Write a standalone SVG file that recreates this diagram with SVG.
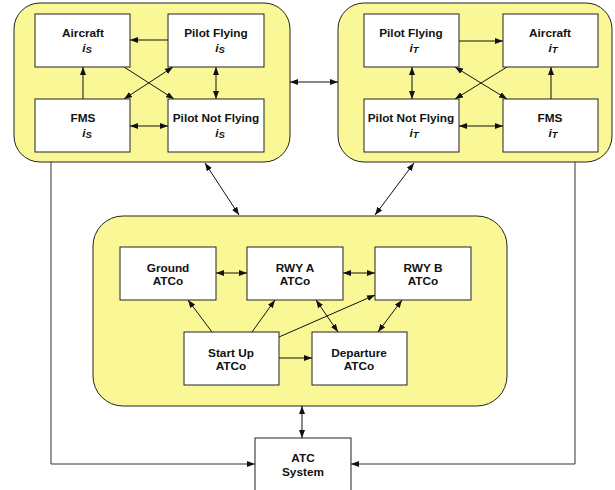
<svg xmlns="http://www.w3.org/2000/svg" width="615" height="490" viewBox="0 0 615 490">
<style>
.bg{fill:#FFFFFF}
.grp{fill:#FAF896;stroke:#222;stroke-width:1}
.box{fill:#FFFFFF;stroke:#222;stroke-width:1}
.t{font-family:"Liberation Sans",Arial,sans-serif;font-weight:bold;font-size:11.8px;fill:#111;text-anchor:middle}
.it{font-style:italic}
.sub{font-size:9.5px}
.c{fill:none;stroke:#111;stroke-width:1}
.cg{fill:none;stroke:#333;stroke-width:1}
.a{marker-end:url(#ah)}
.d{marker-end:url(#ah);marker-start:url(#ah)}
</style>
<defs>
<marker id="ah" viewBox="0 0 8 6" refX="8" refY="3" markerWidth="8" markerHeight="6" markerUnits="userSpaceOnUse" orient="auto-start-reverse">
<path d="M0,0 L8,3 L0,6 Z" fill="#111"/>
</marker>
</defs>
<rect class="bg" x="0" y="0" width="615" height="490"/>

<g id="groupS">
<rect class="grp" x="14" y="3" width="276" height="159" rx="26" ry="26"/>
</g>
<g id="groupT">
<rect class="grp" x="338" y="3" width="274" height="159" rx="26" ry="26"/>
</g>
<g id="groupATC">
<rect class="grp" x="93" y="216" width="414" height="190" rx="30" ry="30"/>
</g>

<g id="connectors">
<line class="c a" x1="168" y1="40" x2="130" y2="40"/>
<line class="c a" x1="83" y1="99" x2="83" y2="67"/>
<line class="c d" x1="216" y1="67" x2="216" y2="99"/>
<line class="c d" x1="130" y1="126" x2="168" y2="126"/>
<line class="c a" x1="124" y1="67" x2="174" y2="99"/>
<line class="c d" x1="173" y1="67" x2="124" y2="99"/>
<line class="c a" x1="459" y1="41" x2="503" y2="41"/>
<line class="c a" x1="551" y1="99" x2="551" y2="67"/>
<line class="c d" x1="412" y1="67" x2="412" y2="99"/>
<line class="c d" x1="459" y1="126" x2="503" y2="126"/>
<line class="c d" x1="455" y1="67" x2="507" y2="99"/>
<line class="c a" x1="507" y1="67" x2="455" y2="99"/>
<line class="c d" x1="290" y1="82" x2="338" y2="82"/>
<line class="c d" x1="205" y1="163" x2="239" y2="215"/>
<line class="c d" x1="414" y1="163" x2="375" y2="215"/>
<line class="c d" x1="302" y1="406" x2="302" y2="438"/>
<polyline class="cg a" points="51,162 51,464 255,464"/>
<polyline class="cg a" points="575,162 575,464 351,464"/>
<line class="c d" x1="216" y1="273" x2="247" y2="273"/>
<line class="c d" x1="343" y1="273" x2="375" y2="273"/>
<line class="c a" x1="212" y1="332" x2="188" y2="300"/>
<line class="c a" x1="252" y1="332" x2="275" y2="300"/>
<line class="c a" x1="279" y1="337" x2="375" y2="295"/>
<line class="c d" x1="316" y1="300" x2="338" y2="332"/>
<line class="c d" x1="402" y1="300" x2="378" y2="332"/>
<line class="c a" x1="279" y1="358" x2="312" y2="358"/>
</g>

<g id="aircraftS">
<rect class="box" x="35" y="14" width="95" height="53"/>
<text class="t" x="83" y="37">Aircraft</text>
<text class="t it" x="87" y="52">i<tspan class="sub" dy="1">S</tspan></text>
</g>
<g id="pilotFlyingS">
<rect class="box" x="168" y="14" width="96" height="53"/>
<text class="t" x="216" y="37">Pilot Flying</text>
<text class="t it" x="220" y="52">i<tspan class="sub" dy="1">S</tspan></text>
</g>
<g id="fmsS">
<rect class="box" x="35" y="99" width="95" height="53"/>
<text class="t" x="83" y="122">FMS</text>
<text class="t it" x="87" y="137">i<tspan class="sub" dy="1">S</tspan></text>
</g>
<g id="pilotNotFlyingS">
<rect class="box" x="168" y="99" width="96" height="53"/>
<text class="t" x="216" y="122">Pilot Not Flying</text>
<text class="t it" x="220" y="137">i<tspan class="sub" dy="1">S</tspan></text>
</g>

<g id="pilotFlyingT">
<rect class="box" x="364" y="14" width="95" height="53"/>
<text class="t" x="411" y="37">Pilot Flying</text>
<text class="t it" x="414" y="52">i<tspan class="sub" dy="1">T</tspan></text>
</g>
<g id="aircraftT">
<rect class="box" x="503" y="14" width="95" height="53"/>
<text class="t" x="550" y="37">Aircraft</text>
<text class="t it" x="553" y="52">i<tspan class="sub" dy="1">T</tspan></text>
</g>
<g id="pilotNotFlyingT">
<rect class="box" x="364" y="99" width="95" height="53"/>
<text class="t" x="411" y="122">Pilot Not Flying</text>
<text class="t it" x="414" y="137">i<tspan class="sub" dy="1">T</tspan></text>
</g>
<g id="fmsT">
<rect class="box" x="503" y="99" width="95" height="53"/>
<text class="t" x="550" y="122">FMS</text>
<text class="t it" x="553" y="137">i<tspan class="sub" dy="1">T</tspan></text>
</g>

<g id="groundATCo">
<rect class="box" x="120" y="247" width="96" height="53"/>
<text class="t" x="168" y="272">Ground</text>
<text class="t" x="168" y="285">ATCo</text>
</g>
<g id="rwyA">
<rect class="box" x="247" y="247" width="96" height="53"/>
<text class="t" x="295" y="272">RWY A</text>
<text class="t" x="295" y="285">ATCo</text>
</g>
<g id="rwyB">
<rect class="box" x="375" y="247" width="96" height="53"/>
<text class="t" x="423" y="272">RWY B</text>
<text class="t" x="423" y="285">ATCo</text>
</g>
<g id="startUp">
<rect class="box" x="184" y="332" width="95" height="53"/>
<text class="t" x="231" y="357">Start Up</text>
<text class="t" x="231" y="370">ATCo</text>
</g>
<g id="departure">
<rect class="box" x="312" y="332" width="95" height="53"/>
<text class="t" x="359" y="357">Departure</text>
<text class="t" x="359" y="370">ATCo</text>
</g>
<g id="atcSystem">
<rect class="box" x="255" y="438" width="96" height="60"/>
<text class="t" x="303" y="462">ATC</text>
<text class="t" x="303" y="476">System</text>
</g>
</svg>
